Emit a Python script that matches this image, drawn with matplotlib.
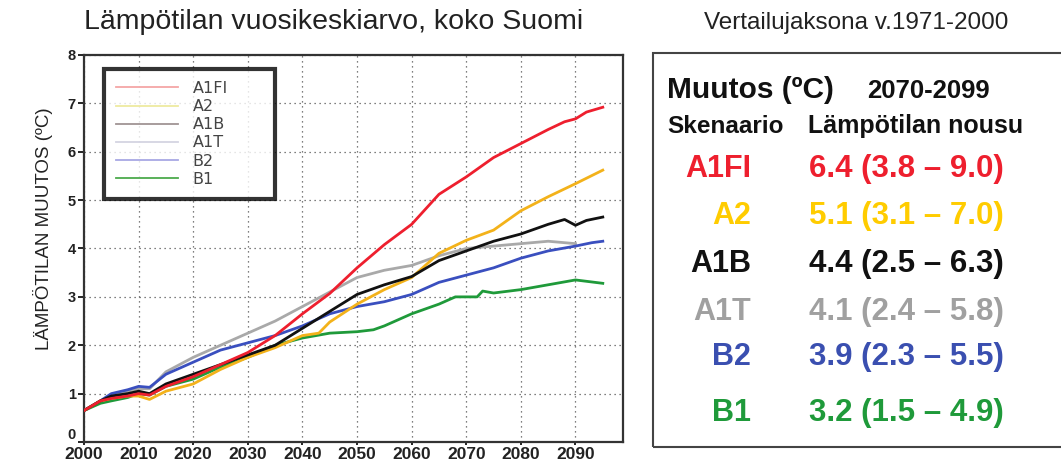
import matplotlib.pyplot as plt
from matplotlib.lines import Line2D
from matplotlib.patches import Rectangle

plt.rcParams['font.family'] = ['Liberation Sans', 'DejaVu Sans']

# scenario data (year, temperature change)
years_a1fi = [2000, 2003, 2005, 2008, 2010, 2012, 2015, 2020, 2025, 2030, 2035, 2040, 2045, 2050, 2055, 2060, 2065, 2070, 2075, 2080, 2085, 2088, 2090, 2092, 2095]
temp_a1fi = [0.65, 0.85, 0.90, 0.95, 1.00, 0.97, 1.15, 1.35, 1.60, 1.85, 2.20, 2.65, 3.07, 3.60, 4.08, 4.50, 5.12, 5.48, 5.88, 6.17, 6.46, 6.62, 6.68, 6.82, 6.92]

years_a2 = [2000, 2003, 2005, 2008, 2010, 2012, 2015, 2020, 2025, 2030, 2035, 2040, 2043, 2045, 2050, 2055, 2060, 2065, 2070, 2075, 2080, 2085, 2090, 2095]
temp_a2 = [0.65, 0.85, 0.90, 0.95, 0.95, 0.88, 1.05, 1.20, 1.50, 1.75, 1.95, 2.20, 2.25, 2.48, 2.85, 3.15, 3.40, 3.90, 4.17, 4.38, 4.78, 5.07, 5.34, 5.62]

years_a1b = [2000, 2003, 2005, 2008, 2010, 2012, 2015, 2020, 2025, 2030, 2035, 2040, 2045, 2050, 2055, 2060, 2065, 2070, 2075, 2080, 2085, 2088, 2090, 2092, 2095]
temp_a1b = [0.65, 0.85, 0.95, 1.00, 1.05, 1.00, 1.20, 1.40, 1.60, 1.80, 2.00, 2.35, 2.70, 3.05, 3.25, 3.42, 3.75, 3.95, 4.15, 4.30, 4.50, 4.60, 4.48, 4.58, 4.65]

years_a1t = [2000, 2003, 2005, 2008, 2010, 2012, 2015, 2020, 2025, 2030, 2035, 2040, 2045, 2050, 2055, 2060, 2065, 2070, 2075, 2080, 2085, 2090]
temp_a1t = [0.65, 0.85, 0.95, 1.05, 1.10, 1.10, 1.45, 1.75, 2.00, 2.25, 2.50, 2.80, 3.10, 3.40, 3.55, 3.65, 3.85, 4.00, 4.05, 4.10, 4.15, 4.10]

years_b2 = [2000, 2003, 2005, 2008, 2010, 2012, 2015, 2020, 2025, 2030, 2035, 2040, 2045, 2050, 2055, 2060, 2065, 2070, 2075, 2080, 2085, 2090, 2093, 2095]
temp_b2 = [0.65, 0.85, 1.00, 1.08, 1.15, 1.13, 1.40, 1.65, 1.90, 2.05, 2.20, 2.40, 2.65, 2.80, 2.90, 3.05, 3.30, 3.45, 3.60, 3.80, 3.95, 4.05, 4.12, 4.15]

years_b1 = [2000, 2003, 2005, 2008, 2010, 2012, 2015, 2020, 2025, 2030, 2035, 2040, 2045, 2050, 2053, 2055, 2060, 2065, 2068, 2072, 2073, 2075, 2080, 2085, 2090, 2095]
temp_b1 = [0.65, 0.80, 0.85, 0.92, 1.00, 0.97, 1.15, 1.30, 1.55, 1.75, 2.00, 2.15, 2.25, 2.28, 2.32, 2.40, 2.65, 2.85, 3.00, 3.00, 3.12, 3.08, 3.15, 3.25, 3.35, 3.28]

scenarios = ["A1FI", "A2", "A1B", "A1T", "B2", "B1"]
line_colors = ["#ee1f2e", "#f3b21a", "#111111", "#a9a9a9", "#3a4fbf", "#1f9a3a"]
legend_colors = ["#f4a6a6", "#eeeaa0", "#a09494", "#d4d4e2", "#a8a8e4", "#4caa4c"]
text_colors = ["#ee1f2e", "#ffcc00", "#111111", "#a0a0a0", "#3a4fb0", "#1f9a3a"]
mean_change = ["6.4", "5.1", "4.4", "4.1", "3.9", "3.2"]
range_low = ["3.8", "3.1", "2.5", "2.4", "2.3", "1.5"]
range_high = ["9.0", "7.0", "6.3", "5.8", "5.5", "4.9"]

series = [(years_a1fi, temp_a1fi), (years_a2, temp_a2), (years_a1b, temp_a1b),
          (years_a1t, temp_a1t), (years_b2, temp_b2), (years_b1, temp_b1)]

W, H = 1061, 463
fig = plt.figure(figsize=(W / 100, H / 100), dpi=100)


def px(x, y):
    return x / W, 1 - y / H


ax = fig.add_axes([84 / W, 21 / H, 539 / W, 387 / H])

# draw order: grey and blue under the rest, like the original
order = [3, 4, 5, 1, 2, 0]
for i in order:
    yrs, vals = series[i]
    ax.plot(yrs, vals, color=line_colors[i], linewidth=2.0, zorder=3)

ax.set_xlim(2000, 2098.7)
ax.set_ylim(0, 8)
ax.set_xticks(range(2000, 2091, 10))
ax.set_yticks(range(0, 9))
ax.grid(True, linestyle=(0, (1, 3)), color="#555555", linewidth=0.9)
for s in ax.spines.values():
    s.set_linewidth(1.6)
    s.set_color("#333333")
ax.tick_params(axis='x', labelsize=12.5, length=2, pad=1.5, width=1.2)
ax.tick_params(axis='y', labelsize=10.5, length=4, pad=2, width=1.2)
for lab in ax.get_xticklabels() + ax.get_yticklabels():
    lab.set_fontweight('bold')
    lab.set_color('#222222')
# keep the "0" clear of the "2000" below it
ax.get_yticklabels()[0].set_va('bottom')
ax.set_ylabel("LÄMPÖTILAN MUUTOS (ºC)", fontsize=13.5, color='#222222')
ax.yaxis.set_label_coords(-0.058, 0.55)

handles = [Line2D([], [], color=c, linewidth=1.3) for c in legend_colors]
leg = ax.legend(handles, scenarios, loc='upper left',
                bbox_to_anchor=(0.037, 0.964 - 0.35, 0.317, 0.35), mode='expand',
                prop={'family': 'DejaVu Sans', 'size': 11.5}, frameon=True,
                fancybox=False, handlelength=3.9, handletextpad=0.9,
                labelspacing=0.2, borderpad=0.75, borderaxespad=0)
leg.get_frame().set_edgecolor('black')
leg.get_frame().set_linewidth(3)
for t in leg.get_texts():
    t.set_color('#444444')

fig.text(*px(334, 22), "Lämpötilan vuosikeskiarvo, koko Suomi", fontsize=20.5,
         ha='center', va='center', color='#222222')

# right panel
fig.text(*px(856, 23), "Vertailujaksona v.1971-2000", fontsize=17.5,
         ha='center', va='center', color='#222222')
fig.patches.append(Rectangle(px(653, 447), (1200 - 653) / W, 394 / H,
                             transform=fig.transFigure, fill=False,
                             edgecolor='#444444', linewidth=1.5))

fig.text(*px(667, 98), "Muutos (ºC)", fontsize=21.5, fontweight='bold',
         ha='left', va='baseline', color='#111111')
fig.text(*px(867, 98), "2070-2099", fontsize=18.5, fontweight='bold',
         ha='left', va='baseline', color='#111111')
fig.text(*px(667, 133), "Skenaario", fontsize=17.5, fontweight='bold',
         ha='left', va='baseline', color='#111111')
fig.text(*px(808, 133), "Lämpötilan nousu", fontsize=18, fontweight='bold',
         ha='left', va='baseline', color='#111111')

row_base = [177, 224, 272, 320, 365, 421]
for i, name in enumerate(scenarios):
    fig.text(*px(751, row_base[i]), name, fontsize=22, fontweight='bold',
             ha='right', va='baseline', color=text_colors[i])
    fig.text(*px(809, row_base[i]),
             f"{mean_change[i]} ({range_low[i]} – {range_high[i]})",
             fontsize=22.5, fontweight='bold', ha='left', va='baseline',
             color=text_colors[i])

fig.savefig("out.png", dpi=100)
